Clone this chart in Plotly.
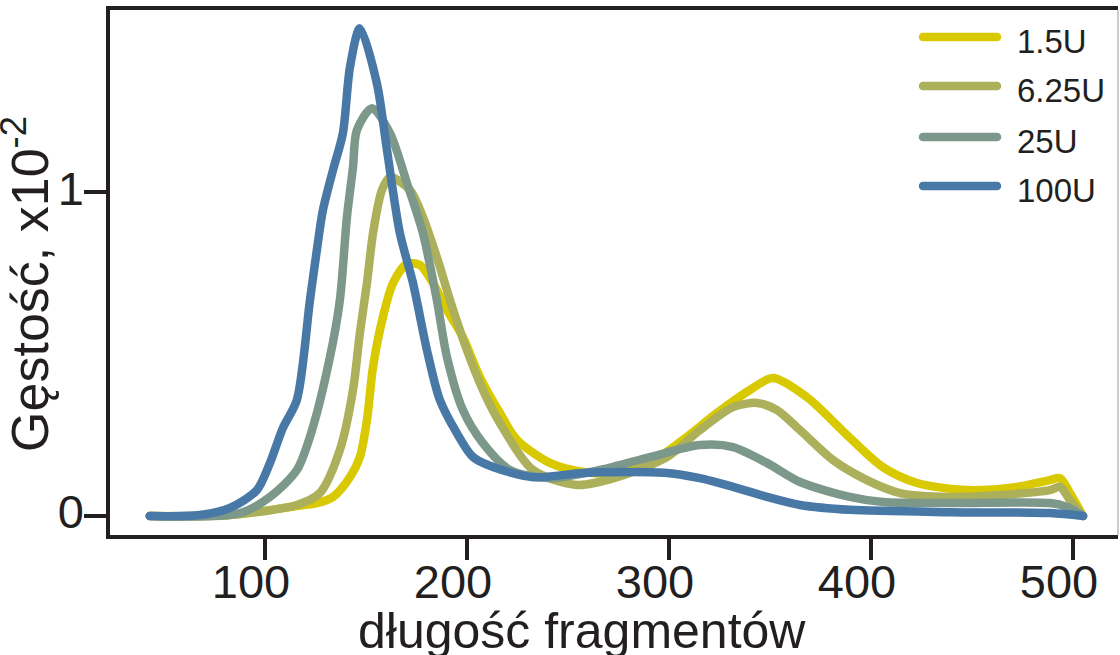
import plotly.graph_objects as go

# ---- data ----
series_names = ["1.5U", "6.25U", "25U", "100U"]
series_colors = ["#d8c900", "#adb05a", "#7c988a", "#4878a6"]

x_15 = [43, 82.7, 115.8, 125.7, 133.7, 142.1, 147.0, 150.5, 153.5, 158.4, 163.4, 170.3, 176.7,
        183.2, 190.1, 198.0, 206.4, 216.3, 224.8, 241.1, 257.4, 274.3, 290.6, 306.9, 323.8,
        340.1, 351.5, 368.3, 389.6, 405.9, 422.8, 447.5, 472.3, 488.6, 493.6, 498.5, 505]
y_15 = [0.0, 0.003, 0.031, 0.040, 0.059, 0.120, 0.182, 0.296, 0.460, 0.614, 0.719, 0.778, 0.775,
        0.719, 0.636, 0.552, 0.429, 0.318, 0.235, 0.164, 0.136, 0.133, 0.164, 0.235, 0.318,
        0.389, 0.426, 0.367, 0.241, 0.151, 0.102, 0.080, 0.090, 0.111, 0.117, 0.071, 0.0]

x_625 = [43, 82.7, 115.8, 127.2, 137.1, 143.6, 147.0, 150.5, 153.5, 157.9, 161.9, 171.8, 178.2,
         185.1, 191.6, 200.0, 207.9, 216.3, 232.7, 254.5, 274.3, 299.0, 315.3, 331.7, 343.6,
         353.5, 364.9, 381.2, 398.0, 414.4, 439.1, 463.9, 488.6, 493.6, 498.5, 505]
y_625 = [0.0, 0.003, 0.034, 0.071, 0.204, 0.389, 0.565, 0.719, 0.873, 1.006, 1.046, 1.006, 0.923,
         0.799, 0.667, 0.512, 0.389, 0.287, 0.142, 0.096, 0.120, 0.182, 0.265, 0.336, 0.349,
         0.327, 0.265, 0.173, 0.111, 0.071, 0.059, 0.065, 0.080, 0.090, 0.049, 0.0]

x_25 = [43, 87.6, 102.5, 115.8, 123.3, 132.2, 137.1, 140.6, 143.6, 145.5, 153.0, 161.9, 170.3,
        178.2, 185.1, 190.1, 198.0, 207.9, 221.3, 241.1, 265.8, 290.6, 315.3, 331.7, 348.5,
        364.9, 389.6, 405.9, 439.1, 488.6, 497.0, 505]
y_25 = [0.0, 0.009, 0.059, 0.142, 0.265, 0.491, 0.667, 0.923, 1.077, 1.191, 1.259, 1.182, 1.028,
        0.873, 0.667, 0.491, 0.327, 0.225, 0.142, 0.117, 0.142, 0.182, 0.219, 0.213, 0.164,
        0.105, 0.059, 0.043, 0.040, 0.040, 0.028, 0.0]

x_100 = [43, 67.8, 82.7, 96.0, 102.5, 108.9, 115.8, 122.3, 125.7, 128.7, 133.7, 138.6, 142.1,
         147.0, 155.4, 160.4, 166.8, 173.3, 180.2, 186.6, 195.0, 203.0, 212.9, 232.7, 257.4,
         282.2, 299.0, 315.3, 331.7, 348.5, 364.9, 389.6, 439.1, 488.6, 505]
y_100 = [0.0, 0.003, 0.025, 0.080, 0.164, 0.272, 0.358, 0.667, 0.821, 0.944, 1.068, 1.182, 1.386,
         1.506, 1.336, 1.130, 0.873, 0.719, 0.512, 0.358, 0.256, 0.182, 0.151, 0.120, 0.133,
         0.136, 0.133, 0.117, 0.090, 0.059, 0.034, 0.019, 0.012, 0.009, 0.0]

x_tickvals = [100, 200, 300, 400, 500]
y_tickvals = [0, 1]
y_ticktext = ["0", "1"]

xs = [x_15, x_625, x_25, x_100]
ys = [y_15, y_625, y_25, y_100]

FONT = "Liberation Sans, Arial, Helvetica, sans-serif"
INK = "#231f20"

fig = go.Figure()
for name, col, xv, yv in zip(series_names, series_colors, xs, ys):
    fig.add_trace(go.Scatter(x=xv, y=yv, mode="lines", name=name,
                             line=dict(color=col, width=8.5, shape="spline", smoothing=0.8),
                             showlegend=False, hoverinfo="skip"))

fig.update_layout(
    width=1120, height=655,
    margin=dict(l=110, r=2, t=10, b=120),
    paper_bgcolor="white", plot_bgcolor="white",
    font=dict(family=FONT, color=INK),
    showlegend=False,
)
fig.update_xaxes(range=[23.3, 522.3], showgrid=False, zeroline=False,
                 showline=True, linecolor=INK, linewidth=3.5, mirror=True,
                 ticks="outside", ticklen=21, tickwidth=3.5, tickcolor=INK,
                 tickvals=x_tickvals, tickfont=dict(size=47, family=FONT, color=INK),
                 ticklabelshift=-14, ticklabelstandoff=-18)
fig.update_yaxes(range=[-0.0586, 1.562], showgrid=False, zeroline=False,
                 showline=True, linecolor=INK, linewidth=3.5, mirror=False,
                 ticks="outside", ticklen=22, tickwidth=3.5, tickcolor=INK,
                 tickvals=y_tickvals, ticktext=y_ticktext,
                 tickfont=dict(size=47, family=FONT, color=INK),
                 ticklabelshift=-4, ticklabelstandoff=-9)

# thin right frame line
fig.add_shape(type="line", xref="paper", yref="paper", x0=1, x1=1, y0=0, y1=1,
              line=dict(color="#9a9a9a", width=1))

# axis titles
fig.add_annotation(text="długość fragmentów", xref="paper", yref="paper",
                   x=0.468, y=-0.183, xanchor="center", yanchor="middle",
                   showarrow=False, font=dict(size=50, family=FONT, color=INK))
fig.add_annotation(text="Gęstość, x10<sup>-2</sup>", xref="paper", yref="paper",
                   x=-0.0835, y=0.478, xanchor="center", yanchor="middle", textangle=-90,
                   showarrow=False, font=dict(size=52, family=FONT, color=INK))

# legend (drawn manually)
leg_y_px = [37, 86, 137, 186]
for name, col, py in zip(series_names, series_colors, leg_y_px):
    yp = (535 - py) / 525
    fig.add_shape(type="line", xref="paper", yref="paper",
                  x0=(923 - 110) / 1008, x1=(997 - 110) / 1008, y0=yp, y1=yp,
                  line=dict(color=col, width=8.5))
    fig.add_annotation(text=name, xref="paper", yref="paper",
                       x=(1015 - 110) / 1008, y=(535 - py - 4.5) / 525,
                       xanchor="left", yanchor="middle", showarrow=False,
                       font=dict(size=33, family=FONT, color=INK))

post = """
document.querySelectorAll('.scatterlayer path.js-line, .shapelayer path').forEach(function(p){
  p.style.strokeLinecap='round'; p.style.strokeLinejoin='round';
});
"""
fig.write_html("out.html", post_script=post)
